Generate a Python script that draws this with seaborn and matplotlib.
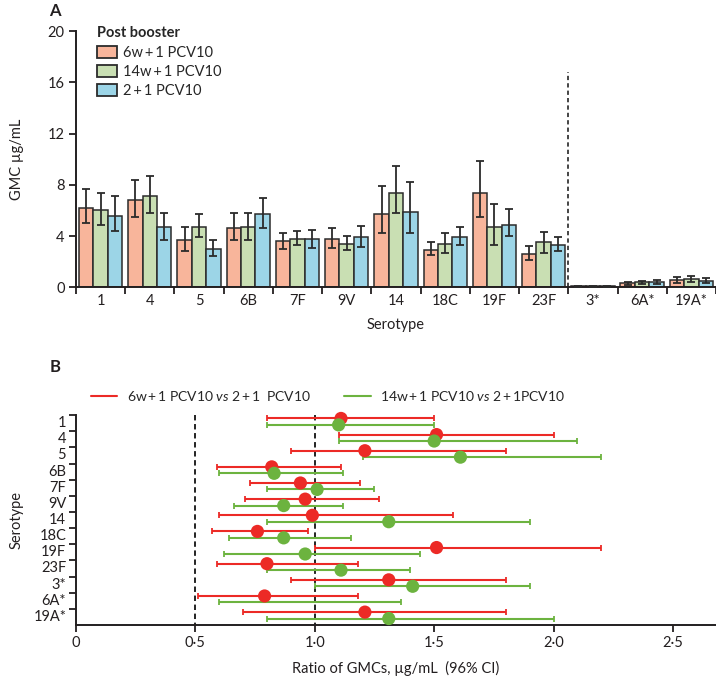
import numpy as np
import pandas as pd
import seaborn as sns
import matplotlib.pyplot as plt
from matplotlib.lines import Line2D

sns.set_style('ticks')
plt.rcParams['font.family'] = ['Lato', 'DejaVu Sans']
plt.rcParams['mathtext.fontset'] = 'custom'
plt.rcParams['mathtext.it'] = 'Lato:italic'
plt.rcParams['mathtext.rm'] = 'Lato'

INK = '#231f20'

# ---- panel A data: GMC (ug/mL) with 95% CI ----
serotypes = ['1', '4', '5', '6B', '7F', '9V', '14', '18C', '19F', '23F', '3*', '6A*', '19A*']
groups = ['6w\u2009+\u20091 PCV10', '14w\u2009+\u20091 PCV10', '2\u2009+\u20091 PCV10']
gmc_6w = [6.2, 6.8, 3.7, 4.6, 3.6, 3.8, 5.7, 2.9, 7.4, 2.6, 0.08, 0.31, 0.57]
lo_6w = [5.0, 5.5, 2.8, 3.7, 3.0, 3.1, 4.2, 2.5, 5.5, 2.1, 0.05, 0.21, 0.36]
hi_6w = [7.7, 8.4, 4.7, 5.8, 4.2, 4.6, 7.9, 3.5, 9.9, 3.2, 0.11, 0.42, 0.78]
gmc_14w = [6.0, 7.1, 4.7, 4.7, 3.8, 3.4, 7.4, 3.4, 4.7, 3.5, 0.08, 0.39, 0.65]
lo_14w = [4.9, 5.8, 3.9, 3.7, 3.3, 2.9, 5.8, 2.7, 3.3, 2.7, 0.05, 0.26, 0.42]
hi_14w = [7.4, 8.7, 5.7, 5.8, 4.4, 4.0, 9.5, 4.2, 6.5, 4.3, 0.11, 0.47, 0.89]
gmc_21 = [5.6, 4.7, 3.0, 5.7, 3.8, 3.9, 5.9, 3.9, 4.9, 3.3, 0.08, 0.42, 0.52]
lo_21 = [4.4, 3.7, 2.4, 4.6, 3.1, 3.15, 4.2, 3.3, 4.0, 2.8, 0.05, 0.26, 0.31]
hi_21 = [7.1, 5.8, 3.7, 7.0, 4.5, 4.8, 8.2, 4.7, 6.1, 3.9, 0.11, 0.57, 0.70]
bar_colors = ['#f8b59b', '#c9dfb3', '#9cd5e7']

# ---- panel B data: ratio of GMCs with 96% CI ----
ratio_6w = [1.11, 1.51, 1.21, 0.82, 0.94, 0.96, 0.99, 0.76, 1.51, 0.80, 1.31, 0.79, 1.21]
rlo_6w = [0.80, 1.10, 0.90, 0.59, 0.73, 0.71, 0.60, 0.57, 1.00, 0.59, 0.90, 0.51, 0.70]
rhi_6w = [1.50, 2.00, 1.80, 1.11, 1.19, 1.27, 1.58, 0.97, 2.20, 1.18, 1.80, 1.18, 1.80]
ratio_14w = [1.10, 1.50, 1.61, 0.83, 1.01, 0.87, 1.31, 0.87, 0.96, 1.11, 1.41, np.nan, 1.31]
rlo_14w = [0.80, 1.10, 1.20, 0.60, 0.80, 0.66, 0.80, 0.64, 0.62, 0.80, 1.00, 0.60, 0.80]
rhi_14w = [1.50, 2.10, 2.20, 1.12, 1.25, 1.12, 1.90, 1.15, 1.44, 1.40, 1.90, 1.36, 2.00]
ratio_ticks = [0, 0.5, 1.0, 1.5, 2.0, 2.5]
ratio_labels = ['0', '0\u00b75', '1\u00b70', '1\u00b75', '2\u00b70', '2\u00b75']

fig = plt.figure(figsize=(7.16, 6.79), dpi=100)
axA = fig.add_axes([0.106, 0.577, 0.894, 0.377])
axB = fig.add_axes([0.106, 0.0795, 0.894, 0.309])

# ------------------ Panel A ------------------
df = pd.DataFrame({
    'Serotype': serotypes * 3,
    'GMC': gmc_6w + gmc_14w + gmc_21,
    'Group': [g for g in groups for _ in serotypes],
})
sns.barplot(data=df, x='Serotype', y='GMC', hue='Group', order=serotypes,
            hue_order=groups, palette=bar_colors, saturation=1, width=0.88,
            errorbar=None, edgecolor='#2b2b2b', linewidth=1.1, ax=axA)

for cont, vals, lo, hi in zip(axA.containers, [gmc_6w, gmc_14w, gmc_21],
                              [lo_6w, lo_14w, lo_21], [hi_6w, hi_14w, hi_21]):
    xs = [b.get_x() + b.get_width() / 2 for b in cont]
    v = np.array(vals)
    axA.errorbar(xs, v, yerr=[v - np.array(lo), np.array(hi) - v], fmt='none',
                 ecolor='#2b2b2b', elinewidth=1.3, capsize=3.2, capthick=1.3, zorder=5)

axA.vlines(9.5, 0, 16.8, colors='#444444', linestyles=(0, (2.2, 1.6)), linewidth=1.4)

axA.set_xlim(-0.5, 12.5)
axA.set_ylim(0, 20)
axA.set_yticks([0, 4, 8, 12, 16, 20])
axA.set_xticks(np.arange(-0.5, 13, 1))
axA.set_xticklabels([])
axA.set_xticks(np.arange(13), minor=True)
axA.set_xticklabels(serotypes, minor=True)
axA.tick_params(axis='x', which='minor', length=0, pad=5, labelsize=10.5, colors=INK)
axA.tick_params(axis='x', which='major', length=5, width=1.3, color=INK)
axA.tick_params(axis='y', length=5, width=1.3, pad=3, labelsize=10.5, colors=INK)
for s in ['top', 'right']:
    axA.spines[s].set_visible(False)
for s in ['left', 'bottom']:
    axA.spines[s].set_linewidth(1.4)
    axA.spines[s].set_color(INK)
axA.set_xlabel('Serotype', fontsize=10.5, color=INK, labelpad=7)
axA.set_ylabel('GMC \u00b5g/mL', fontsize=10.5, color=INK, labelpad=17)

leg = axA.legend(title='Post booster', loc='upper left', bbox_to_anchor=(0.012, 1.07),
                 frameon=False, alignment='left', fontsize=10.5,
                 title_fontproperties={'weight': 'bold', 'size': 10.5},
                 handlelength=1.4, handleheight=0.9, handletextpad=0.4,
                 labelspacing=0.35)
for h in leg.legend_handles:
    h.set_edgecolor('#2b2b2b')
    h.set_linewidth(1.3)

fig.text(0.077, 0.995, 'A', fontsize=12, fontweight='bold', ha='center', va='top', color=INK)

# ------------------ Panel B ------------------
rows = np.arange(len(serotypes))
red = '#ec2a26'
green = '#6cb33f'
for vals, lo, hi, off, col in [(ratio_6w, rlo_6w, rhi_6w, 0.2, red),
                               (ratio_14w, rlo_14w, rhi_14w, 0.6, green)]:
    ys = rows + off
    lo = np.array(lo)
    hi = np.array(hi)
    axB.errorbar((lo + hi) / 2, ys, xerr=(hi - lo) / 2, fmt='none', ecolor=col,
                 elinewidth=1.5, capsize=2.4, capthick=1.3, clip_on=False, zorder=3)
    pts = pd.DataFrame({'ratio': vals, 'y': ys})
    sns.scatterplot(data=pts, x='ratio', y='y', color=col, s=90, edgecolor='none',
                    ax=axB, clip_on=False, zorder=4, legend=False)

axB.vlines([0.5, 1.0], 0, 13, colors='#111111', linestyles=(0, (3, 2)), linewidth=1.3)

axB.set_xlim(0, 2.68)
axB.set_ylim(13, 0)
axB.set_xticks(ratio_ticks)
axB.set_xticklabels(ratio_labels)
axB.set_yticks(rows)
axB.set_yticklabels([])
axB.set_yticks(rows + 0.4, minor=True)
axB.set_yticklabels(serotypes, minor=True)
axB.tick_params(axis='y', which='minor', length=0, pad=7, labelsize=10.5, colors=INK)
axB.tick_params(axis='y', which='major', length=5, width=1.3, color=INK)
axB.tick_params(axis='x', length=5, width=1.3, labelsize=10.5, colors=INK, pad=3)
for s in ['top', 'right']:
    axB.spines[s].set_visible(False)
for s in ['left', 'bottom']:
    axB.spines[s].set_linewidth(1.4)
    axB.spines[s].set_color(INK)
axB.set_xlabel('Ratio of GMCs, \u00b5g/mL  (96% CI)', fontsize=10.5, color=INK, labelpad=8)
axB.set_ylabel('Serotype', fontsize=10.5, color=INK, labelpad=7)

handles = [Line2D([], [], color=red, lw=1.5), Line2D([], [], color=green, lw=1.5)]
labels = ['6w\u2009+\u20091 PCV10 $\\it{vs}$ 2\u2009+\u20091  PCV10',
          '14w\u2009+\u20091 PCV10 $\\it{vs}$ 2\u2009+\u20091PCV10']
axB.legend(handles, labels, loc='lower left', bbox_to_anchor=(0.015, 1.03), ncol=2,
           frameon=False, fontsize=10, handlelength=1.9, handletextpad=0.7,
           columnspacing=2.4, borderaxespad=0)

fig.text(0.077, 0.472, 'B', fontsize=12, fontweight='bold', ha='center', va='top', color=INK)

fig.savefig('out.png', dpi=100)
